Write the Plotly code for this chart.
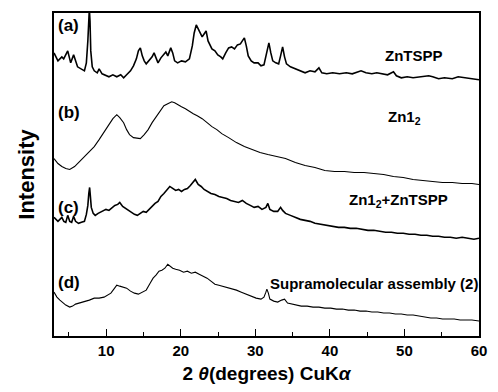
import plotly.graph_objects as go

# ---- data (2theta in degrees, intensity in arbitrary units, curves stacked) ----
a_x = [3.0, 3.53, 4.05, 4.3, 4.84, 5.24, 5.63, 6.16, 7.08, 7.34, 7.54, 7.67, 7.74, 7.83, 7.93, 8.13, 8.4, 8.8,
       9.05, 9.45, 9.84, 10.37, 10.9, 11.42, 11.95, 12.34, 12.74, 13.26, 13.66, 14.05, 14.32, 14.58, 14.84,
       15.1, 15.37, 15.76, 16.16, 16.42, 16.68, 16.95, 17.34, 17.74, 18.0, 18.26, 18.66, 18.92, 19.18, 19.58,
       20.1, 20.63, 21.16, 21.55, 21.8, 22.08, 22.34, 22.6, 22.87, 23.13, 23.4, 23.66, 23.92, 24.18, 24.58,
       24.97, 25.37, 25.63, 26.03, 26.42, 26.82, 27.21, 27.6, 28.0, 28.26, 28.53, 28.79, 29.05, 29.45, 29.84,
       30.37, 30.76, 31.16, 31.42, 31.68, 31.82, 32.08, 32.34, 32.74, 33.13, 33.39, 33.66, 33.92, 34.18, 34.71,
       35.37, 36.03, 36.68, 37.34, 38.0, 38.53, 38.92, 39.58, 40.37, 41.29, 42.21, 43.0, 43.66, 44.18, 44.84,
       45.63, 46.29, 46.95, 47.74, 48.53, 48.92, 49.58, 50.37, 51.16, 52.21, 53.26, 53.79, 54.58, 55.37, 56.42,
       57.21, 58.0, 58.79, 60.0]
a_y = [284, 276, 280, 278, 286, 274, 282, 270, 266, 274, 296, 321, 328, 316, 286, 270, 266, 264,
       268, 263, 262, 260, 262, 260, 262, 259, 262, 266, 271, 278, 286, 289, 281,
       276, 273, 276, 280, 284, 278, 274, 279, 283, 285, 281, 289, 284, 276, 274,
       276, 275, 278, 291, 304, 312, 308, 304, 300, 303, 306, 296, 292, 288, 286,
       282, 280, 278, 284, 289, 290, 288, 292, 293, 296, 299, 291, 281, 276, 274,
       274, 271, 272, 281, 291, 294, 284, 276, 274, 273, 281, 290, 280, 273, 270,
       268, 266, 264, 266, 265, 269, 264, 263, 264, 263, 264, 263, 265, 266, 264,
       263, 264, 263, 262, 265, 261, 259, 260, 259, 260, 261, 260, 258, 259, 258,
       260, 259, 258, 257]

b_x = [3.0, 3.53, 4.05, 4.58, 5.11, 5.76, 6.42, 7.08, 7.74, 8.4, 9.05, 9.71, 10.37, 10.9, 11.42, 11.82,
       12.34, 12.74, 13.13, 13.66, 14.18, 14.58, 15.1, 15.63, 16.16, 16.68, 17.21, 17.74, 18.26, 18.79,
       19.18, 19.58, 20.1, 20.63, 21.16, 21.68, 22.21, 22.87, 23.53, 24.18, 24.84, 25.5, 26.42, 27.47,
       28.53, 29.58, 30.63, 31.68, 32.74, 34.05, 35.37, 36.68, 38.0, 39.32, 40.63, 41.95, 43.26, 44.58,
       45.89, 47.21, 48.53, 49.84, 51.16, 52.47, 53.79, 55.1, 56.42, 57.74, 59.05, 60.0]
b_y = [178, 173, 170, 168, 167, 170, 175, 180, 185, 190, 197, 204, 212, 218, 222, 219,
       214, 207, 202, 199, 198, 198, 202, 207, 214, 220, 226, 231, 233, 235,
       234, 232, 230, 228, 225, 223, 221, 218, 214, 210, 207, 203, 199, 194,
       190, 187, 184, 182, 180, 178, 174, 171, 169, 166, 165, 165, 164, 164,
       163, 162, 160, 159, 157, 156, 155, 154, 154, 153, 153, 152]

c_x = [3.0, 3.26, 3.53, 3.79, 4.05, 4.32, 4.58, 4.84, 5.11, 5.37, 5.63, 5.89, 6.29, 6.68, 7.08, 7.34,
       7.54, 7.67, 7.78, 7.87, 8.0, 8.26, 8.53, 8.92, 9.45, 9.97, 10.37, 10.76, 11.16, 11.55, 11.82, 12.21,
       12.61, 13.0, 13.39, 13.79, 14.18, 14.58, 14.97, 15.37, 15.76, 16.16, 16.55, 16.95, 17.34, 17.74,
       18.13, 18.53, 18.92, 19.32, 19.71, 20.1, 20.5, 20.89, 21.29, 21.68, 21.95, 22.34, 22.74, 23.13,
       23.53, 24.05, 24.58, 25.11, 25.63, 26.16, 26.68, 27.21, 27.74, 28.26, 28.79, 29.32, 29.84, 30.37,
       30.89, 31.42, 31.68, 31.95, 32.47, 33.0, 33.39, 33.66, 34.05, 34.71, 35.37, 36.03, 36.68, 37.34,
       38.0, 38.79, 39.58, 40.37, 41.16, 41.95, 42.74, 43.53, 44.32, 45.11, 45.89, 46.68, 47.47, 48.26,
       49.05, 49.84, 50.63, 51.42, 52.21, 53.0, 53.79, 54.58, 55.37, 56.16, 56.95, 57.74, 58.53, 59.32, 60.0]
c_y = [119, 117, 115, 117, 119, 115, 114, 121, 115, 114, 120, 115, 113, 114, 115, 122,
       131, 143, 149, 141, 129, 123, 121, 123, 125, 127, 126, 129, 131, 132, 134, 130,
       128, 126, 124, 122, 121, 123, 125, 124, 127, 130, 133, 135, 140, 143,
       147, 150, 148, 146, 147, 145, 147, 148, 151, 155, 157, 152, 150, 147,
       145, 143, 142, 140, 139, 138, 136, 135, 134, 136, 133, 131, 129, 130,
       127, 129, 133, 127, 125, 125, 129, 126, 123, 121, 119, 117, 116, 115,
       113, 112, 111, 110, 109, 109, 108, 108, 107, 106, 106, 105, 104, 104,
       103, 103, 102, 102, 101, 101, 100, 100, 99, 99, 98, 99, 98, 97, 98]

d_x = [3.0, 3.39, 3.79, 4.18, 4.58, 5.11, 5.5, 5.89, 6.42, 7.08, 7.74, 8.4, 9.05, 9.71, 10.24, 10.63,
       11.03, 11.42, 11.82, 12.21, 12.74, 13.26, 13.79, 14.32, 14.84, 15.37, 15.89, 16.29, 16.68, 17.08,
       17.47, 17.87, 18.26, 18.53, 18.92, 19.32, 19.84, 20.37, 20.89, 21.42, 21.95, 22.47, 23.0, 23.53,
       24.05, 24.58, 25.11, 25.63, 26.16, 26.82, 27.47, 28.13, 28.79, 29.45, 30.11, 30.76, 31.16, 31.42,
       31.55, 31.75, 31.95, 32.47, 33.0, 33.53, 33.92, 34.32, 34.84, 35.37, 36.16, 36.95, 37.74, 38.53,
       39.32, 40.11, 40.89, 41.68, 42.47, 43.26, 44.05, 44.84, 45.63, 46.42, 47.21, 48.0, 48.79, 49.58,
       50.37, 51.16, 51.95, 52.74, 53.53, 54.32, 55.11, 55.89, 56.68, 57.47, 58.26, 59.05, 60.0]
d_y = [44, 39, 36, 33, 31, 29, 30, 32, 33, 34, 36, 38, 38, 39, 41, 43,
       47, 51, 50, 49, 48, 45, 43, 42, 44, 46, 53, 58, 61, 65,
       66, 68, 72, 70, 68, 67, 66, 64, 65, 63, 64, 62, 60, 58,
       55, 52, 51, 50, 49, 48, 46, 44, 42, 40, 38, 37, 39, 44,
       47, 43, 37, 35, 34, 36, 37, 33, 32, 31, 30, 30, 29, 29,
       28, 28, 27, 27, 26, 26, 25, 25, 24, 24, 23, 23, 22, 22,
       21, 21, 20, 19, 18, 18, 17, 17, 17, 16, 16, 16, 15]

curve_labels = ["(a)", "(b)", "(c)", "(d)"]
curve_label_y = [311, 224, 129, 54]
sample_names = ["ZnTSPP", "Zn1<sub>2</sub>", "Zn1<sub>2</sub>+ZnTSPP", "Supramolecular assembly (2)"]
sample_name_x = [51.3, 50.0, 49.2, 45.9]
sample_name_y = [281, 219, 136, 53]
x_ticks = [10, 20, 30, 40, 50, 60]

FONT = "Arial, Liberation Sans, sans-serif"

fig = go.Figure()
for xs, ys, w in [(a_x, a_y, 1.6), (b_x, b_y, 1.1), (c_x, c_y, 1.6), (d_x, d_y, 1.1)]:
    fig.add_trace(go.Scatter(x=xs, y=ys, mode="lines",
                             line=dict(color="black", width=w), showlegend=False))

for lab, yy in zip(curve_labels, curve_label_y):
    fig.add_annotation(x=3.25, y=yy, text=lab, showarrow=False, xanchor="left", yanchor="middle",
                       font=dict(family=FONT, size=17, color="black", weight="bold"))
for name, xx, yy in zip(sample_names, sample_name_x, sample_name_y):
    fig.add_annotation(x=xx, y=yy, text=name, showarrow=False, xanchor="center", yanchor="middle",
                       font=dict(family=FONT, size=15, color="black", weight="bold"))

fig.update_layout(
    width=498, height=392,
    margin=dict(l=54, r=11, t=12, b=56),
    paper_bgcolor="white", plot_bgcolor="white",
    font=dict(family=FONT, color="black"),
    xaxis=dict(range=[3, 60], tickvals=x_ticks, ticks="inside", ticklen=7, tickwidth=1.3,
               tickcolor="black", showline=True, linecolor="black", linewidth=1.6, mirror=True,
               showgrid=False, zeroline=False,
               tickfont=dict(family=FONT, size=15, color="black", weight="bold"),
               minor=dict(tickvals=[5, 15, 25, 35, 45, 55], ticks="inside", ticklen=4,
                          tickcolor="black", tickwidth=1.2),
               title=dict(text="2 <i>θ</i>(degrees) CuK<i>α</i>", standoff=9,
                          font=dict(family=FONT, size=19, color="black", weight="bold"))),
    yaxis=dict(range=[0, 324], showticklabels=False, ticks="", showline=True, linecolor="black",
               linewidth=1.6, mirror=True, showgrid=False, zeroline=False,
               title=dict(text="Intensity", standoff=12,
                          font=dict(family=FONT, size=22, color="black", weight="bold"))),
)

fig.write_html("out.html")
